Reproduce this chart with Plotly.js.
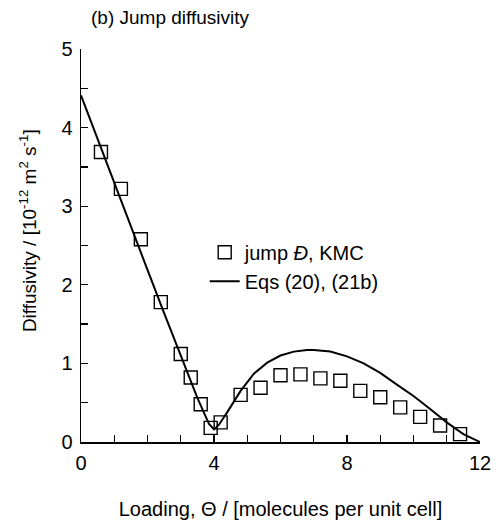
<!DOCTYPE html>
<html>
<head>
<meta charset="utf-8">
<script src="https://cdn.plot.ly/plotly-3.0.1.min.js"></script>
<style>html,body{margin:0;padding:0;background:#fff;}#chart{width:501px;height:521px;}</style>
</head>
<body>
<div id="chart"></div>
<script>
// KMC jump diffusivity (squares)
const kmcLoading = [0.6, 1.2, 1.8, 2.4, 3.0, 3.3, 3.6, 3.9, 4.2, 4.8, 5.4, 6.0, 6.6, 7.2, 7.8, 8.4, 9.0, 9.6, 10.2, 10.8, 11.4];
const kmcDiff    = [3.69, 3.22, 2.58, 1.78, 1.12, 0.82, 0.48, 0.18, 0.25, 0.60, 0.69, 0.85, 0.86, 0.81, 0.78, 0.65, 0.57, 0.44, 0.32, 0.21, 0.10];
// Eqs (20), (21b) curve
const eqLoading = [0, 0.5, 1.0, 1.5, 2.0, 2.5, 3.0, 3.3, 3.5, 3.7, 3.85, 4.0, 4.15, 4.4, 4.8, 5.2, 5.6, 6.0, 6.4, 6.8, 7.0, 7.5, 8.0, 8.5, 9.0, 9.5, 10.0, 10.5, 11.0, 11.5, 12.0];
const eqDiff    = [4.41, 3.85, 3.30, 2.74, 2.19, 1.64, 1.09, 0.77, 0.56, 0.37, 0.23, 0.16, 0.22, 0.38, 0.65, 0.87, 1.01, 1.10, 1.15, 1.17, 1.17, 1.15, 1.09, 1.00, 0.88, 0.73, 0.585, 0.42, 0.25, 0.10, 0.0];
const xTickVals = [0, 4, 8, 12];
const yTickVals = [0, 1, 2, 3, 4, 5];

const font = '"Liberation Sans", Arial, Helvetica, sans-serif';

const traces = [
  {x: kmcLoading, y: kmcDiff, type: 'scatter', mode: 'markers', name: 'jump <i>Đ</i>, KMC',
   marker: {symbol: 'square-open', size: 13, color: '#000', line: {width: 1.4, color: '#000'}}, cliponaxis: false},
  {x: eqLoading, y: eqDiff, type: 'scatter', mode: 'lines', name: 'Eqs (20), (21b)',
   line: {color: '#000', width: 2}, cliponaxis: false}
];

const layout = {
  width: 501, height: 521,
  margin: {l: 81, r: 21, t: 49, b: 79},
  paper_bgcolor: '#fff', plot_bgcolor: '#fff',
  font: {family: font, color: '#000', size: 20},
  showlegend: true,
  legend: {x: 0.31, y: 0.446, xanchor: 'left', yanchor: 'middle', bgcolor: 'rgba(0,0,0,0)',
           font: {family: font, size: 20, color: '#000'}, tracegroupgap: 0, itemwidth: 30},
  xaxis: {range: [0, 12], showgrid: false, zeroline: false, showline: true, linecolor: '#000', linewidth: 1.5,
          mirror: false, ticks: 'inside', ticklen: 7, tickwidth: 1.3, tickcolor: '#000',
          tickmode: 'array', tickvals: xTickVals, ticktext: xTickVals.map(String),
          tickfont: {family: font, size: 20}, ticklabelstandoff: 2,
          minor: {dtick: 1, ticks: 'inside', ticklen: 7, tickwidth: 1.3, tickcolor: '#000', showgrid: false},
          title: {text: 'Loading, Θ / [molecules per unit cell]', font: {family: font, size: 20}, standoff: 29}},
  yaxis: {range: [0, 5], showgrid: false, zeroline: false, showline: true, linecolor: '#000', linewidth: 1.5,
          mirror: false, ticks: 'inside', ticklen: 7, tickwidth: 1.3, tickcolor: '#000',
          tickmode: 'array', tickvals: yTickVals, ticktext: yTickVals.map(String),
          tickfont: {family: font, size: 20}, ticklabelstandoff: 3,
          minor: {dtick: 0.5, ticks: 'inside', ticklen: 7, tickwidth: 1.3, tickcolor: '#000', showgrid: false}},
  annotations: [
    {text: '(b) Jump diffusivity', xref: 'paper', yref: 'paper', x: 0.02, y: 1.0, yshift: 32,
     xanchor: 'left', yanchor: 'middle', showarrow: false, font: {family: font, size: 19, color: '#000'}},
    {text: 'Diffusivity / [10<sup>-12</sup> m<sup>2</sup> s<sup>-1</sup>]', xref: 'paper', yref: 'paper',
     x: -0.133, y: 0.539, xanchor: 'center', yanchor: 'middle', textangle: -90, showarrow: false,
     font: {family: font, size: 19, color: '#000'}}
  ]
};

Plotly.newPlot('chart', traces, layout, {displayModeBar: false, staticPlot: true});
</script>
</body>
</html>
